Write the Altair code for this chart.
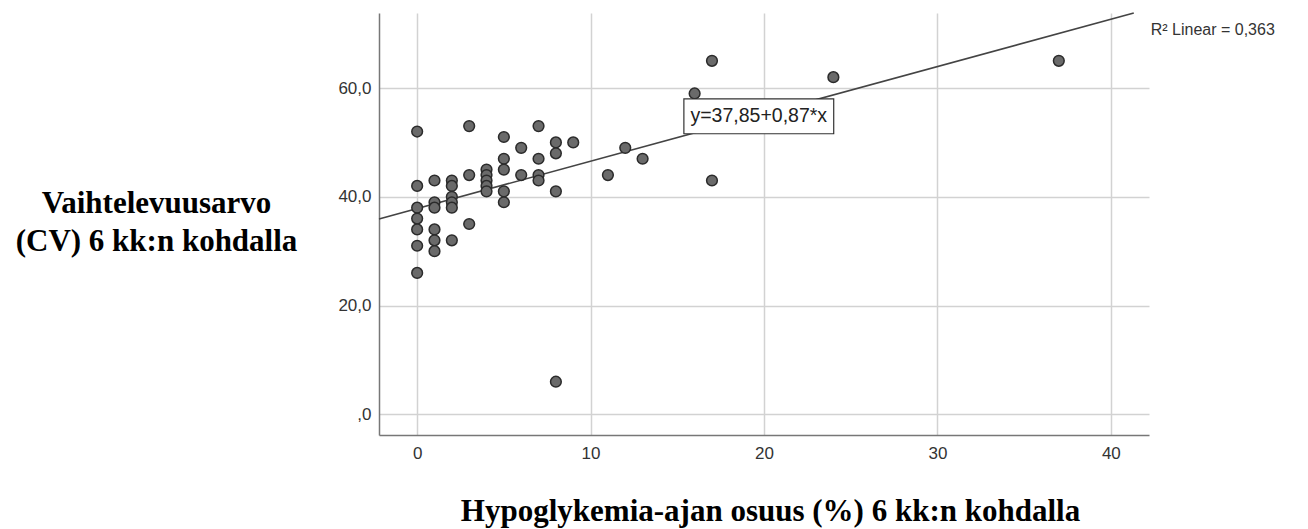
import altair as alt
import pandas as pd

# Scatter data (hypoglycemia time %, CV at 6 months)
hypo_pct = [0, 0, 0, 0, 0, 0, 0,
            1, 1, 1, 1, 1, 1,
            2, 2, 2, 2, 2, 2,
            3, 3, 3,
            4, 4, 4, 4, 4,
            5, 5, 5, 5, 5,
            6, 6,
            7, 7, 7, 7,
            8, 8, 8, 8,
            9,
            11, 12, 13, 16, 17, 17, 24, 37]
cv_values = [52, 42, 38, 36, 34, 31, 26,
             43, 39, 38, 34, 32, 30,
             43, 42, 40, 39, 38, 32,
             53, 44, 35,
             45, 44, 43, 42, 41,
             51, 47, 45, 41, 39,
             49, 44,
             53, 47, 44, 43,
             50, 48, 41, 6,
             50,
             44, 49, 47, 59, 65, 43, 62, 65]

# Fit reported in the chart
intercept = 37.85
slope = 0.87
r2_label = "R² Linear = 0,363"
eq_label = "y=37,85+0,87*x"

x_ticks = [0, 10, 20, 30, 40]
y_ticks = [0, 20, 40, 60]
x_domain = [-2.2, 42.2]
y_domain = [-3.8, 73.8]

x_title = "Hypoglykemia-ajan osuus (%) 6 kk:n kohdalla"
y_title = ["Vaihtelevuusarvo", "(CV) 6 kk:n kohdalla"]

pts = pd.DataFrame({"x": hypo_pct, "y": cv_values})

x_end = min(x_domain[1], (y_domain[1] - intercept) / slope)
fit = pd.DataFrame({"x": [x_domain[0], x_end],
                    "y": [intercept + slope * x_domain[0], intercept + slope * x_end]})

xs = alt.Scale(domain=x_domain, nice=False, zero=False)
ys = alt.Scale(domain=y_domain, nice=False, zero=False)

x_axis = alt.Axis(values=x_ticks, title=x_title, grid=True, ticks=False,
                  labelPadding=10, titleX=391, titleY=85,
                  titleBaseline="alphabetic", titleAlign="center")
y_axis = alt.Axis(values=y_ticks, title=y_title, grid=True, ticks=False,
                  labelPadding=8,
                  labelExpr="datum.value == 0 ? ',0' : replace(format(datum.value, '.1f'), '.', ',')",
                  titleAngle=0, titleAlign="center", titleBaseline="middle",
                  titleX=-223, titleY=190, titleLineHeight=38)

points = alt.Chart(pts).mark_circle(
    size=115, fill="#6a6a6a", stroke="#2b2b2b", strokeWidth=1.5, opacity=1
).encode(
    x=alt.X("x:Q", scale=xs, axis=x_axis),
    y=alt.Y("y:Q", scale=ys, axis=y_axis),
)

line = alt.Chart(fit).mark_line(color="#444444", strokeWidth=1.6).encode(
    x=alt.X("x:Q", scale=xs, axis=x_axis),
    y=alt.Y("y:Q", scale=ys, axis=y_axis),
)

# Equation annotation placed in data space near the fit line
eq_x, eq_y = 19.7, 54.8
eq_df = pd.DataFrame({"x": [eq_x], "y": [eq_y], "x1": [eq_x - 4.32], "x2": [eq_x + 4.32],
                      "y1": [eq_y - 3.2], "y2": [eq_y + 3.2], "label": [eq_label]})

eq_box = alt.Chart(eq_df).mark_rect(fill="white", stroke="#333333", strokeWidth=1.2).encode(
    x=alt.X("x1:Q", scale=xs, axis=x_axis), x2="x2:Q",
    y=alt.Y("y1:Q", scale=ys, axis=y_axis), y2="y2:Q",
)
eq_text = alt.Chart(eq_df).mark_text(
    font="Liberation Sans", fontSize=19.5, color="#222222", align="center", baseline="middle"
).encode(
    x=alt.X("x:Q", scale=xs, axis=x_axis),
    y=alt.Y("y:Q", scale=ys, axis=y_axis),
    text="label:N",
)

r2_df = pd.DataFrame({"x": [42.3], "y": [70.6], "label": [r2_label]})
r2_text = alt.Chart(r2_df).mark_text(
    font="Liberation Sans", fontSize=16, color="#333333", align="left", baseline="middle"
).encode(
    x=alt.X("x:Q", scale=xs, axis=x_axis),
    y=alt.Y("y:Q", scale=ys, axis=y_axis),
    text="label:N",
)

chart = alt.layer(line, points, eq_box, eq_text, r2_text).properties(
    width=770, height=422,
    autosize=alt.AutoSizeParams(type="none"),
    padding={"left": 379, "top": 13, "right": 159, "bottom": 94},
    background="white",
).configure_view(stroke=None).configure_axis(
    labelFont="Liberation Sans", labelFontSize=17, labelColor="#333333",
    domainColor="#777777", domainWidth=1.5,
    gridColor="#d2d2d2", gridWidth=1.5,
    titleFont="Liberation Serif", titleFontWeight="bold", titleFontSize=31,
    titleColor="#000000",
)

chart.save("out.html", embed_options={"renderer": "svg", "actions": False})
